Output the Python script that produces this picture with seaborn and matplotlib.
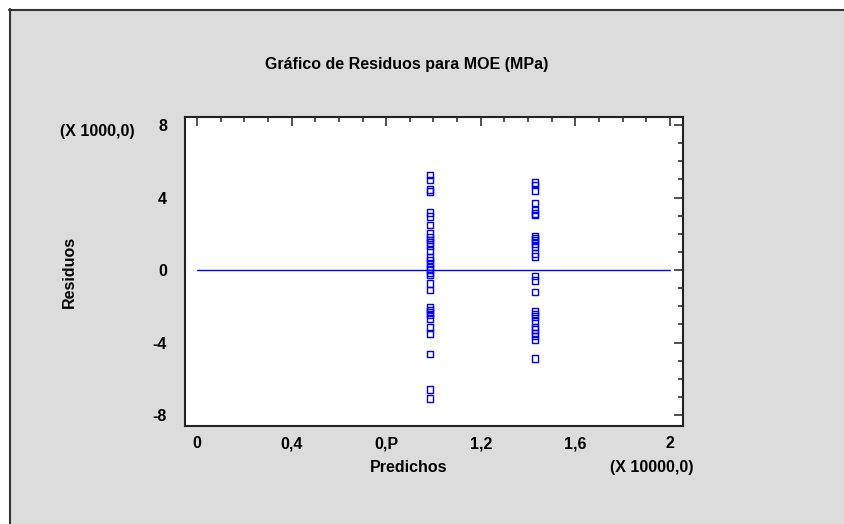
import numpy as np
import pandas as pd
import seaborn as sns
import matplotlib.pyplot as plt
from matplotlib.patches import Rectangle
from matplotlib.lines import Line2D
from matplotlib.ticker import MultipleLocator

# predicted MOE (MPa) for the two groups
pred_values = [9850, 14300]

# residuals (MPa)
resid_group1 = [
    5240, 4970, 4450, 4320, 3160, 2940, 2480, 2020, 1800, 1660, 1510,
    1320, 1070, 700, 550, 370, 180, 40, -150, -280, -740, -1100,
    -2060, -2210, -2350, -2480, -2670, -3180, -3490, -4630, -6580, -7080,
]
resid_group2 = [
    4820, 4690, 4380, 3710, 3310, 3130, 3030, 1880, 1750, 1620, 1470,
    1290, 920, 740, -330, -590, -1200, -2300, -2430, -2570, -2800,
    -3130, -3270, -3460, -3640, -3860, -4870,
]

zero_x = [0, 20000]
zero_y = [0, 0]

x_ticks = [0, 4000, 8000, 12000, 16000, 20000]
x_tick_labels = ["0", "0,4", "0,P", "1,2", "1,6", "2"]
y_ticks = [-8000, -4000, 0, 4000, 8000]
y_tick_labels = ["-8", "-4", "0", "4", "8"]

df = pd.DataFrame({
    "predicho": [pred_values[0]] * len(resid_group1) + [pred_values[1]] * len(resid_group2),
    "residuo": resid_group1 + resid_group2,
})

sns.set_style("white")
plt.rcParams["font.family"] = ["Liberation Sans", "DejaVu Sans"]
plt.rcParams["font.weight"] = "bold"
plt.rcParams["text.color"] = "black"
plt.rcParams["xtick.color"] = "#222222"
plt.rcParams["ytick.color"] = "#222222"
plt.rcParams["xtick.labelcolor"] = "black"
plt.rcParams["ytick.labelcolor"] = "black"

W, H = 844, 524
fig = plt.figure(figsize=(W / 100, H / 100), dpi=100, facecolor="white")

# gray panel with dark top/left edge
fig.patches.append(Rectangle((9 / W, 0), 1, 1 - 9 / H, transform=fig.transFigure,
                             facecolor="#dcdcdc", edgecolor="none", zorder=-5))
fig.lines.append(Line2D([9 / W, 1], [1 - 9.5 / H, 1 - 9.5 / H], transform=fig.transFigure,
                        color="#333333", lw=1.5, zorder=-4))
fig.lines.append(Line2D([9.5 / W, 9.5 / W], [0, 1 - 9 / H], transform=fig.transFigure,
                        color="#333333", lw=1.5, zorder=-4))

ax = fig.add_axes([185 / W, 1 - 426 / H, (683 - 185) / W, (426 - 117) / H])
ax.set_zorder(2)
ax.set_facecolor("white")

sns.lineplot(x=zero_x, y=zero_y, color="#0000ff", lw=1, ax=ax)

sns.scatterplot(
    data=df,
    x="predicho",
    y="residuo",
    marker="s",
    s=22,
    facecolors="none",
    edgecolor="#0000ff",
    linewidth=1.0,
    ax=ax,
)

ax.set_xlim(-507, 20550)
ax.set_ylim(-8600, 8440)

ax.set_xticks(x_ticks)
ax.set_xticklabels(x_tick_labels)
ax.set_yticks(y_ticks)
ax.set_yticklabels(y_tick_labels)
ax.xaxis.set_minor_locator(MultipleLocator(1000))
ax.yaxis.set_minor_locator(MultipleLocator(1000))

ax.tick_params(which="both", direction="in", top=True, right=True, width=1.1)
ax.tick_params(which="major", length=6.5, labelsize=11.5)
ax.tick_params(axis="x", which="major", pad=16)
ax.tick_params(axis="y", which="major", pad=13)
ax.tick_params(which="minor", length=3.3)

# put all x tick labels on a common baseline
for lab in ax.get_xticklabels():
    lab.set_verticalalignment("baseline")

for spine in ax.spines.values():
    spine.set_visible(True)
    spine.set_color("#222222")
    spine.set_linewidth(1.5)

ax.set_xlabel("")
ax.set_ylabel("")

fs = 11.5
fig.text(407 / W, 1 - 69 / H, "Gráfico de Residuos para MOE (MPa)",
         ha="center", va="baseline", fontsize=fs, fontweight="bold")
fig.text(97 / W, 1 - 136 / H, "(X 1000,0)",
         ha="center", va="baseline", fontsize=fs, fontweight="bold")
fig.text(409 / W, 1 - 472 / H, "Predichos",
         ha="center", va="baseline", fontsize=fs, fontweight="bold")
fig.text(652 / W, 1 - 472 / H, "(X 10000,0)",
         ha="center", va="baseline", fontsize=fs, fontweight="bold")
fig.text(69 / W, 1 - 272 / H, "Residuos", rotation=90,
         ha="center", va="center", fontsize=fs, fontweight="bold")

fig.savefig("out.png", dpi=100, facecolor=fig.get_facecolor())
